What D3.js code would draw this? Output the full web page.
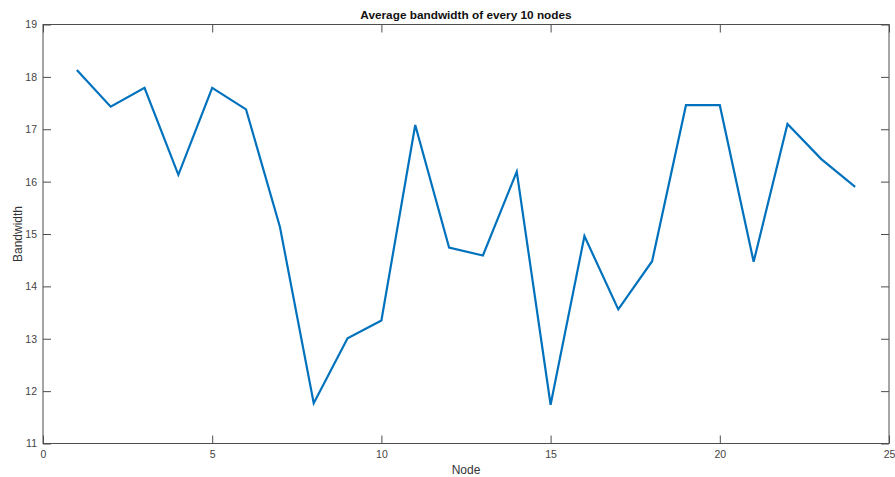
<!DOCTYPE html>
<html>
<head>
<meta charset="utf-8">
<script src="https://cdn.jsdelivr.net/npm/d3@7"></script>
<style>
    body { margin: 0; background: #fff; }
    text { font-family: "Liberation Sans", Arial, sans-serif; }
</style>
</head>
<body>
<div id="chart"></div>
<script>
// chart data
const nodes = d3.range(1, 25);
const bandwidth = [
    18.13, 17.43, 17.79, 16.13, 17.79, 17.38, 15.14, 11.77, 13.01, 13.35,
    17.08, 14.74, 14.59, 16.19, 11.74, 14.96, 13.56, 14.48, 17.46, 17.46,
    14.47, 17.10, 16.43, 15.90,
];
const xTicks = [0, 5, 10, 15, 20, 25];
const yTicks = [11, 12, 13, 14, 15, 16, 17, 18, 19];
const title = 'Average bandwidth of every 10 nodes';
const xLabel = 'Node';
const yLabel = 'Bandwidth';

const W = 895, H = 477;
const margin = { top: 24.5, right: 6, bottom: 33.5, left: 43 },
    width = W - margin.left - margin.right,
    height = H - margin.top - margin.bottom,
    axisColor = '#4d4d4d',
    tickLen = 8;

const svg = d3.select('#chart')
    .append('svg')
    .attr('width', W)
    .attr('height', H);

const g = svg.append('g')
    .attr('transform', `translate(${margin.left},${margin.top})`);

const x = d3.scaleLinear().domain([0, 25]).range([0, width]);
const y = d3.scaleLinear().domain([11, 19]).range([height, 0]);

// axes, MATLAB style: ticks pointing inwards, box on
const styleAxis = (sel, showText) => {
    sel.select('.domain').remove();
    sel.selectAll('line').attr('stroke', axisColor);
    sel.selectAll('text')
        .attr('fill', '#444')
        .style('font-size', '10.5px')
        .style('display', showText ? null : 'none');
};

g.append('g')
    .attr('transform', `translate(0,${height})`)
    .call(d3.axisBottom(x).tickValues(xTicks).tickSizeInner(-tickLen).tickSizeOuter(0).tickPadding(7))
    .call((s) => styleAxis(s, true));
g.append('g')
    .call(d3.axisTop(x).tickValues(xTicks).tickSizeInner(-tickLen).tickSizeOuter(0))
    .call((s) => styleAxis(s, false));
g.append('g')
    .call(d3.axisLeft(y).tickValues(yTicks).tickSizeInner(-tickLen).tickSizeOuter(0).tickPadding(6))
    .call((s) => styleAxis(s, true));
g.append('g')
    .attr('transform', `translate(${width},0)`)
    .call(d3.axisRight(y).tickValues(yTicks).tickSizeInner(-tickLen).tickSizeOuter(0))
    .call((s) => styleAxis(s, false));

// box
g.append('rect')
    .attr('x', 0)
    .attr('y', 0)
    .attr('width', width)
    .attr('height', height)
    .attr('fill', 'none')
    .attr('stroke', axisColor)
    .attr('stroke-width', 1);

// the line
const line = d3.line()
    .x((d, i) => x(nodes[i]))
    .y((d) => y(d));
g.append('path')
    .datum(bandwidth)
    .attr('fill', 'none')
    .attr('stroke', '#0072BD')
    .attr('stroke-width', 2.2)
    .attr('stroke-linejoin', 'miter')
    .attr('d', line);

// title and labels
svg.append('text')
    .attr('x', margin.left + width / 2)
    .attr('y', 19)
    .attr('text-anchor', 'middle')
    .style('font-size', '11.8px')
    .style('font-weight', 'bold')
    .attr('fill', '#111')
    .text(title);

svg.append('text')
    .attr('x', margin.left + width / 2)
    .attr('y', 474)
    .attr('text-anchor', 'middle')
    .style('font-size', '12px')
    .attr('fill', '#333')
    .text(xLabel);

svg.append('text')
    .attr('transform', `translate(22,${margin.top + height / 2}) rotate(-90)`)
    .attr('text-anchor', 'middle')
    .style('font-size', '12px')
    .attr('fill', '#333')
    .text(yLabel);
</script>
</body>
</html>
